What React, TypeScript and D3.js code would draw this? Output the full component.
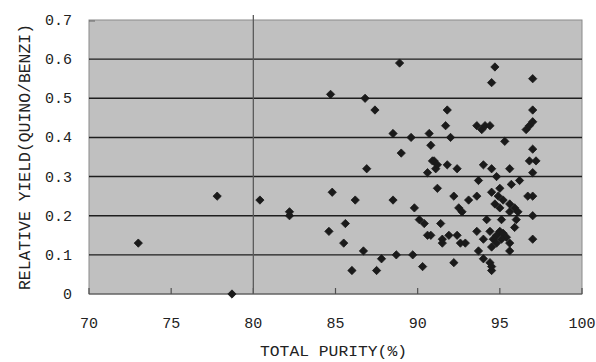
import React, { useEffect, useRef } from 'react';
import * as d3 from 'd3';

// data
const purity: number[] = [
  73.0, 77.8, 78.7, 80.4, 82.2, 82.2, 84.7, 84.8, 84.6, 85.5, 85.6, 86.0, 86.2, 86.7, 86.9, 86.8,
  87.4, 87.5, 87.8, 88.7, 88.5, 88.5, 88.9, 89.0, 89.6, 89.7, 89.8, 90.1, 90.3, 90.4, 90.7, 90.8,
  90.6, 90.6, 90.8, 91.0, 91.1, 91.2, 91.4, 91.5, 91.5, 91.8, 91.7, 91.8, 92.0, 91.9, 92.2, 92.2,
  92.4, 92.4, 92.5, 92.7, 92.6, 92.9, 93.1, 93.6, 93.6, 93.7, 93.7, 93.6, 93.9, 94.1, 94.4, 94.0,
  94.0, 94.0, 94.4, 94.5, 94.5, 94.5, 94.5, 94.5, 94.7, 94.8, 94.5, 94.9, 95.0, 95.2, 95.6, 95.9,
  96.1, 94.7, 95.0, 95.6, 94.2, 95.1, 96.0, 94.4, 94.6, 94.8, 95.0, 95.2, 95.4, 94.8, 95.1, 95.6,
  95.6, 95.9, 95.3, 95.6, 95.7, 96.2, 96.6, 96.8, 97.0, 97.0, 97.0, 97.0, 96.8, 97.2, 97.0, 96.7,
  97.0, 97.0, 97.0, 90.9, 91.2,
];
const yieldRatio: number[] = [
  0.13, 0.25, 0.0, 0.24, 0.21, 0.2, 0.51, 0.26, 0.16, 0.13, 0.18, 0.06, 0.24, 0.11, 0.32, 0.5,
  0.47, 0.06, 0.09, 0.1, 0.24, 0.41, 0.59, 0.36, 0.4, 0.1, 0.22, 0.19, 0.07, 0.18, 0.41, 0.38,
  0.31, 0.15, 0.15, 0.34, 0.32, 0.27, 0.18, 0.14, 0.13, 0.47, 0.43, 0.33, 0.4, 0.15, 0.08, 0.25,
  0.32, 0.15, 0.22, 0.21, 0.13, 0.13, 0.24, 0.25, 0.16, 0.29, 0.11, 0.43, 0.42, 0.43, 0.43, 0.33,
  0.14, 0.09, 0.08, 0.06, 0.07, 0.12, 0.32, 0.54, 0.58, 0.3, 0.26, 0.25, 0.27, 0.24, 0.23, 0.22,
  0.21, 0.23, 0.22, 0.21, 0.19, 0.19, 0.19, 0.16, 0.14, 0.15, 0.16, 0.155, 0.145, 0.13, 0.14, 0.13,
  0.11, 0.17, 0.39, 0.32, 0.28, 0.29, 0.42, 0.43, 0.44, 0.55, 0.47, 0.37, 0.34, 0.34, 0.31, 0.25,
  0.25, 0.2, 0.14, 0.34, 0.33,
];
const xTicks = [70, 75, 80, 85, 90, 95, 100];
const yTicks = [0, 0.1, 0.2, 0.3, 0.4, 0.5, 0.6, 0.7];

export default function App() {
  const ref = useRef<SVGSVGElement>(null);

  useEffect(() => {
    draw();
    // eslint-disable-next-line react-hooks/exhaustive-deps
  }, []);

  function draw() {
    const svg = d3.select(ref.current);
    svg.selectAll('*').remove();
    const width = 596;
    const height = 362;
    const margin = { top: 20, right: 14, bottom: 68, left: 89 };
    const innerWidth = width - margin.left - margin.right;
    const innerHeight = height - margin.top - margin.bottom;
    const font = "'Liberation Mono', 'DejaVu Sans Mono', monospace";

    const xScale = d3.scaleLinear().domain([70, 100]).range([0, innerWidth]);
    const yScale = d3.scaleLinear().domain([0, 0.7]).range([innerHeight, 0]);

    const g = svg.append('g').attr('transform', `translate(${margin.left},${margin.top})`);

    // plot area
    g.append('rect')
      .attr('width', innerWidth)
      .attr('height', innerHeight)
      .attr('fill', '#c0c0c0')
      .attr('stroke', '#8a8a8a')
      .attr('stroke-width', 1);

    // gridlines
    g.selectAll('.grid')
      .data(yTicks.filter((d) => d > 0 && d < 0.7))
      .join('line')
      .attr('x1', 0)
      .attr('x2', innerWidth)
      .attr('y1', (d) => yScale(d))
      .attr('y2', (d) => yScale(d))
      .attr('stroke', '#1e1e1e')
      .attr('stroke-width', 1.4);

    // bottom axis line + inner ticks
    g.append('line')
      .attr('x1', 0)
      .attr('x2', innerWidth)
      .attr('y1', innerHeight)
      .attr('y2', innerHeight)
      .attr('stroke', '#505050')
      .attr('stroke-width', 1.2);
    g.selectAll('.xtick')
      .data(xTicks)
      .join('line')
      .attr('x1', (d) => xScale(d))
      .attr('x2', (d) => xScale(d))
      .attr('y1', innerHeight)
      .attr('y2', innerHeight - 6)
      .attr('stroke', '#505050')
      .attr('stroke-width', 1.2);

    // vertical axis crossing at 80
    g.append('line')
      .attr('x1', xScale(80))
      .attr('x2', xScale(80))
      .attr('y1', -5)
      .attr('y2', innerHeight)
      .attr('stroke', '#5a5a5a')
      .attr('stroke-width', 1.3);
    g.append('line')
      .attr('x1', 0)
      .attr('x2', 6)
      .attr('y1', yScale(0.7) + 1)
      .attr('y2', yScale(0.7) + 1)
      .attr('stroke', '#666')
      .attr('stroke-width', 1);

    // points
    const diamond = d3.symbol().type(d3.symbolDiamond2).size(44);
    g.selectAll('.pt')
      .data(purity.map((p, i) => ({ x: p, y: yieldRatio[i] })))
      .join('path')
      .attr('d', diamond)
      .attr('transform', (d) => `translate(${xScale(d.x)},${yScale(d.y)})`)
      .attr('fill', '#1a1a1a')
      .attr('stroke', '#1a1a1a')
      .attr('stroke-width', 0.8);

    // tick labels
    g.selectAll('.ylab')
      .data(yTicks)
      .join('text')
      .attr('x', -17)
      .attr('y', (d) => yScale(d) + 5)
      .attr('text-anchor', 'end')
      .attr('font-family', font)
      .attr('font-size', 15)
      .attr('fill', '#222')
      .text((d) => (d === 0 ? '0' : d3.format('.1f')(d)));
    g.selectAll('.xlab')
      .data(xTicks)
      .join('text')
      .attr('x', (d) => xScale(d))
      .attr('y', innerHeight + 34)
      .attr('text-anchor', 'middle')
      .attr('font-family', font)
      .attr('font-size', 15)
      .attr('fill', '#222')
      .text((d) => d);

    // titles
    svg.append('text')
      .attr('x', 260)
      .attr('y', 356)
      .attr('textLength', 147)
      .attr('lengthAdjust', 'spacingAndGlyphs')
      .attr('font-family', font)
      .attr('font-size', 15)
      .attr('fill', '#222')
      .text('TOTAL PURITY(%)');
    svg.append('text')
      .attr('transform', 'translate(30,290) rotate(-90)')
      .attr('textLength', 266)
      .attr('lengthAdjust', 'spacingAndGlyphs')
      .attr('font-family', font)
      .attr('font-size', 16)
      .attr('fill', '#222')
      .text('RELATIVE YIELD(QUINO/BENZI)');
  }

  return (
    <svg
      ref={ref}
      width={596}
      height={362}
      style={{ position: 'absolute', left: 0, top: 0, background: '#fff' }}
    />
  );
}
